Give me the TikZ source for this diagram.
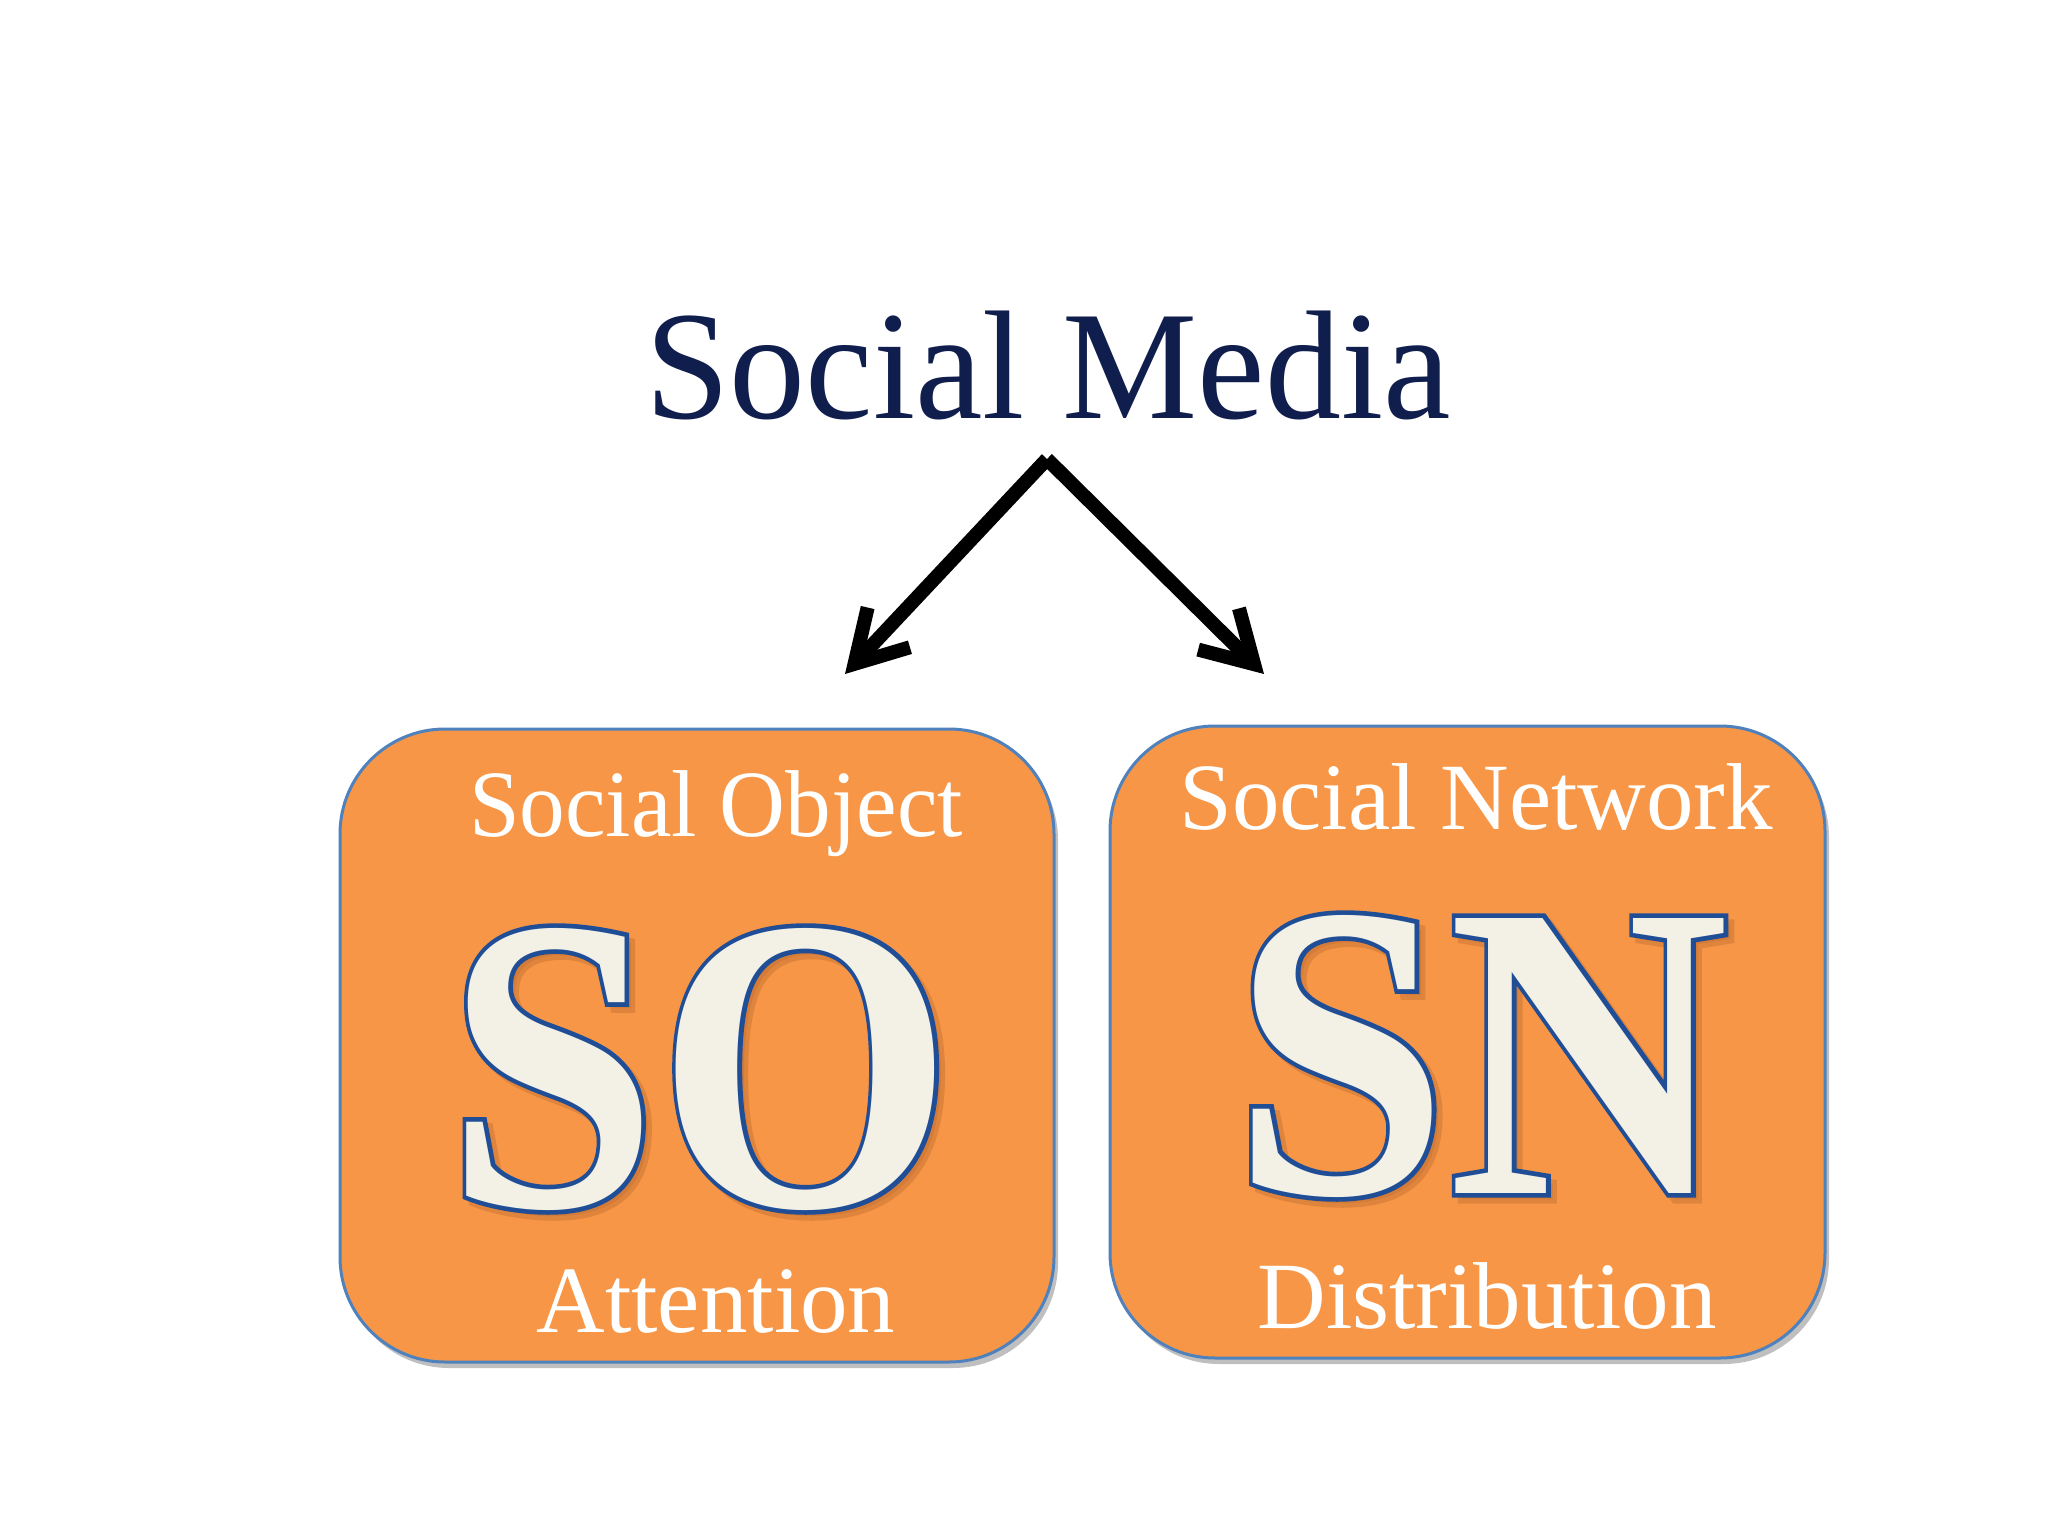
\documentclass[tikz,border=0pt]{standalone}
\usepackage{fontspec}
\setmainfont{Liberation Serif}
\newfontfamily\bigplain{Liberation Serif}
\newfontfamily\bigoutline{Liberation Serif}[BoldFeatures={FakeBold=2.2}]
\usetikzlibrary{arrows.meta,shadows}
\definecolor{titleblue}{HTML}{0F1E4C}
\definecolor{boxorange}{HTML}{F79646}
\definecolor{boxborder}{HTML}{4F81BD}
\definecolor{lettercream}{HTML}{F3F1E6}
\definecolor{letteredge}{HTML}{1F4E96}
\definecolor{lettershadow}{HTML}{C97434}
\begin{document}
\begin{tikzpicture}[x=1pt,y=-1pt,
  panel/.style={draw=boxborder, line width=3pt, fill=boxorange, rounded corners=105pt,
    drop shadow={shadow xshift=4pt, shadow yshift=-6pt, opacity=0.25, fill=black}},
  titletext/.style={text=titleblue, inner sep=0pt, anchor=base, font=\fontsize{155}{160}\selectfont},
  labeltext/.style={text=white, inner sep=0pt, anchor=base, font=\fontsize{95}{100}\selectfont},
  bigtext/.style={inner sep=0pt, anchor=base, text=lettercream, font=\bigplain\bfseries\fontsize{420}{430}\selectfont},
  bigedge/.style={inner sep=0pt, anchor=base, text=letteredge, font=\bigoutline\bfseries\fontsize{420}{430}\selectfont},
  bigshadow/.style={bigedge, text=lettershadow, text opacity=0.5},
  conn/.style={line width=14pt, draw=black, -{Straight Barb[length=50pt,width=58pt]}}
]
\useasboundingbox (0,0) rectangle (2048,1536);
\fill[white] (0,0) rectangle (2048,1536);

% title
\node[titletext] (title) at (1048,418) {\scalebox{0.98}[1]{Social Media}};

% arrows
\coordinate (apex) at (1047,459);
\coordinate (tipL) at (845,674);
\coordinate (tipR) at (1264,674);
\draw[conn] (apex) -- (tipL);
\draw[conn] (apex) -- (tipR);

% panels
\node[panel, minimum width=714pt, minimum height=633pt] (boxL) at (697,1045.5) {};
\node[panel, minimum width=715pt, minimum height=632pt] (boxR) at (1467.5,1042) {};

% left panel texts
\node[labeltext] (objlabel) at (716,836) {\scalebox{0.96}[1]{Social Object}};
\node[bigshadow] (soshadow) at (706,1212) {\scalebox{0.905}[1]{SO}};
\node[bigedge] (soedge) at (700,1206) {\scalebox{0.905}[1]{SO}};
\node[bigtext] (so) at (700,1206) {\scalebox{0.905}[1]{SO}};
\node[labeltext] (attn) at (716,1332) {Attention};

% right panel texts
\node[labeltext] (netlabel) at (1476,829) {Social Network};
\node[bigshadow] (snshadow) at (1487,1199) {\scalebox{0.925}[1]{SN}};
\node[bigedge] (snedge) at (1481,1193) {\scalebox{0.925}[1]{SN}};
\node[bigtext] (sn) at (1481,1193) {\scalebox{0.925}[1]{SN}};
\node[labeltext] (distr) at (1487,1328) {Distribution};
\end{tikzpicture}
\end{document}
